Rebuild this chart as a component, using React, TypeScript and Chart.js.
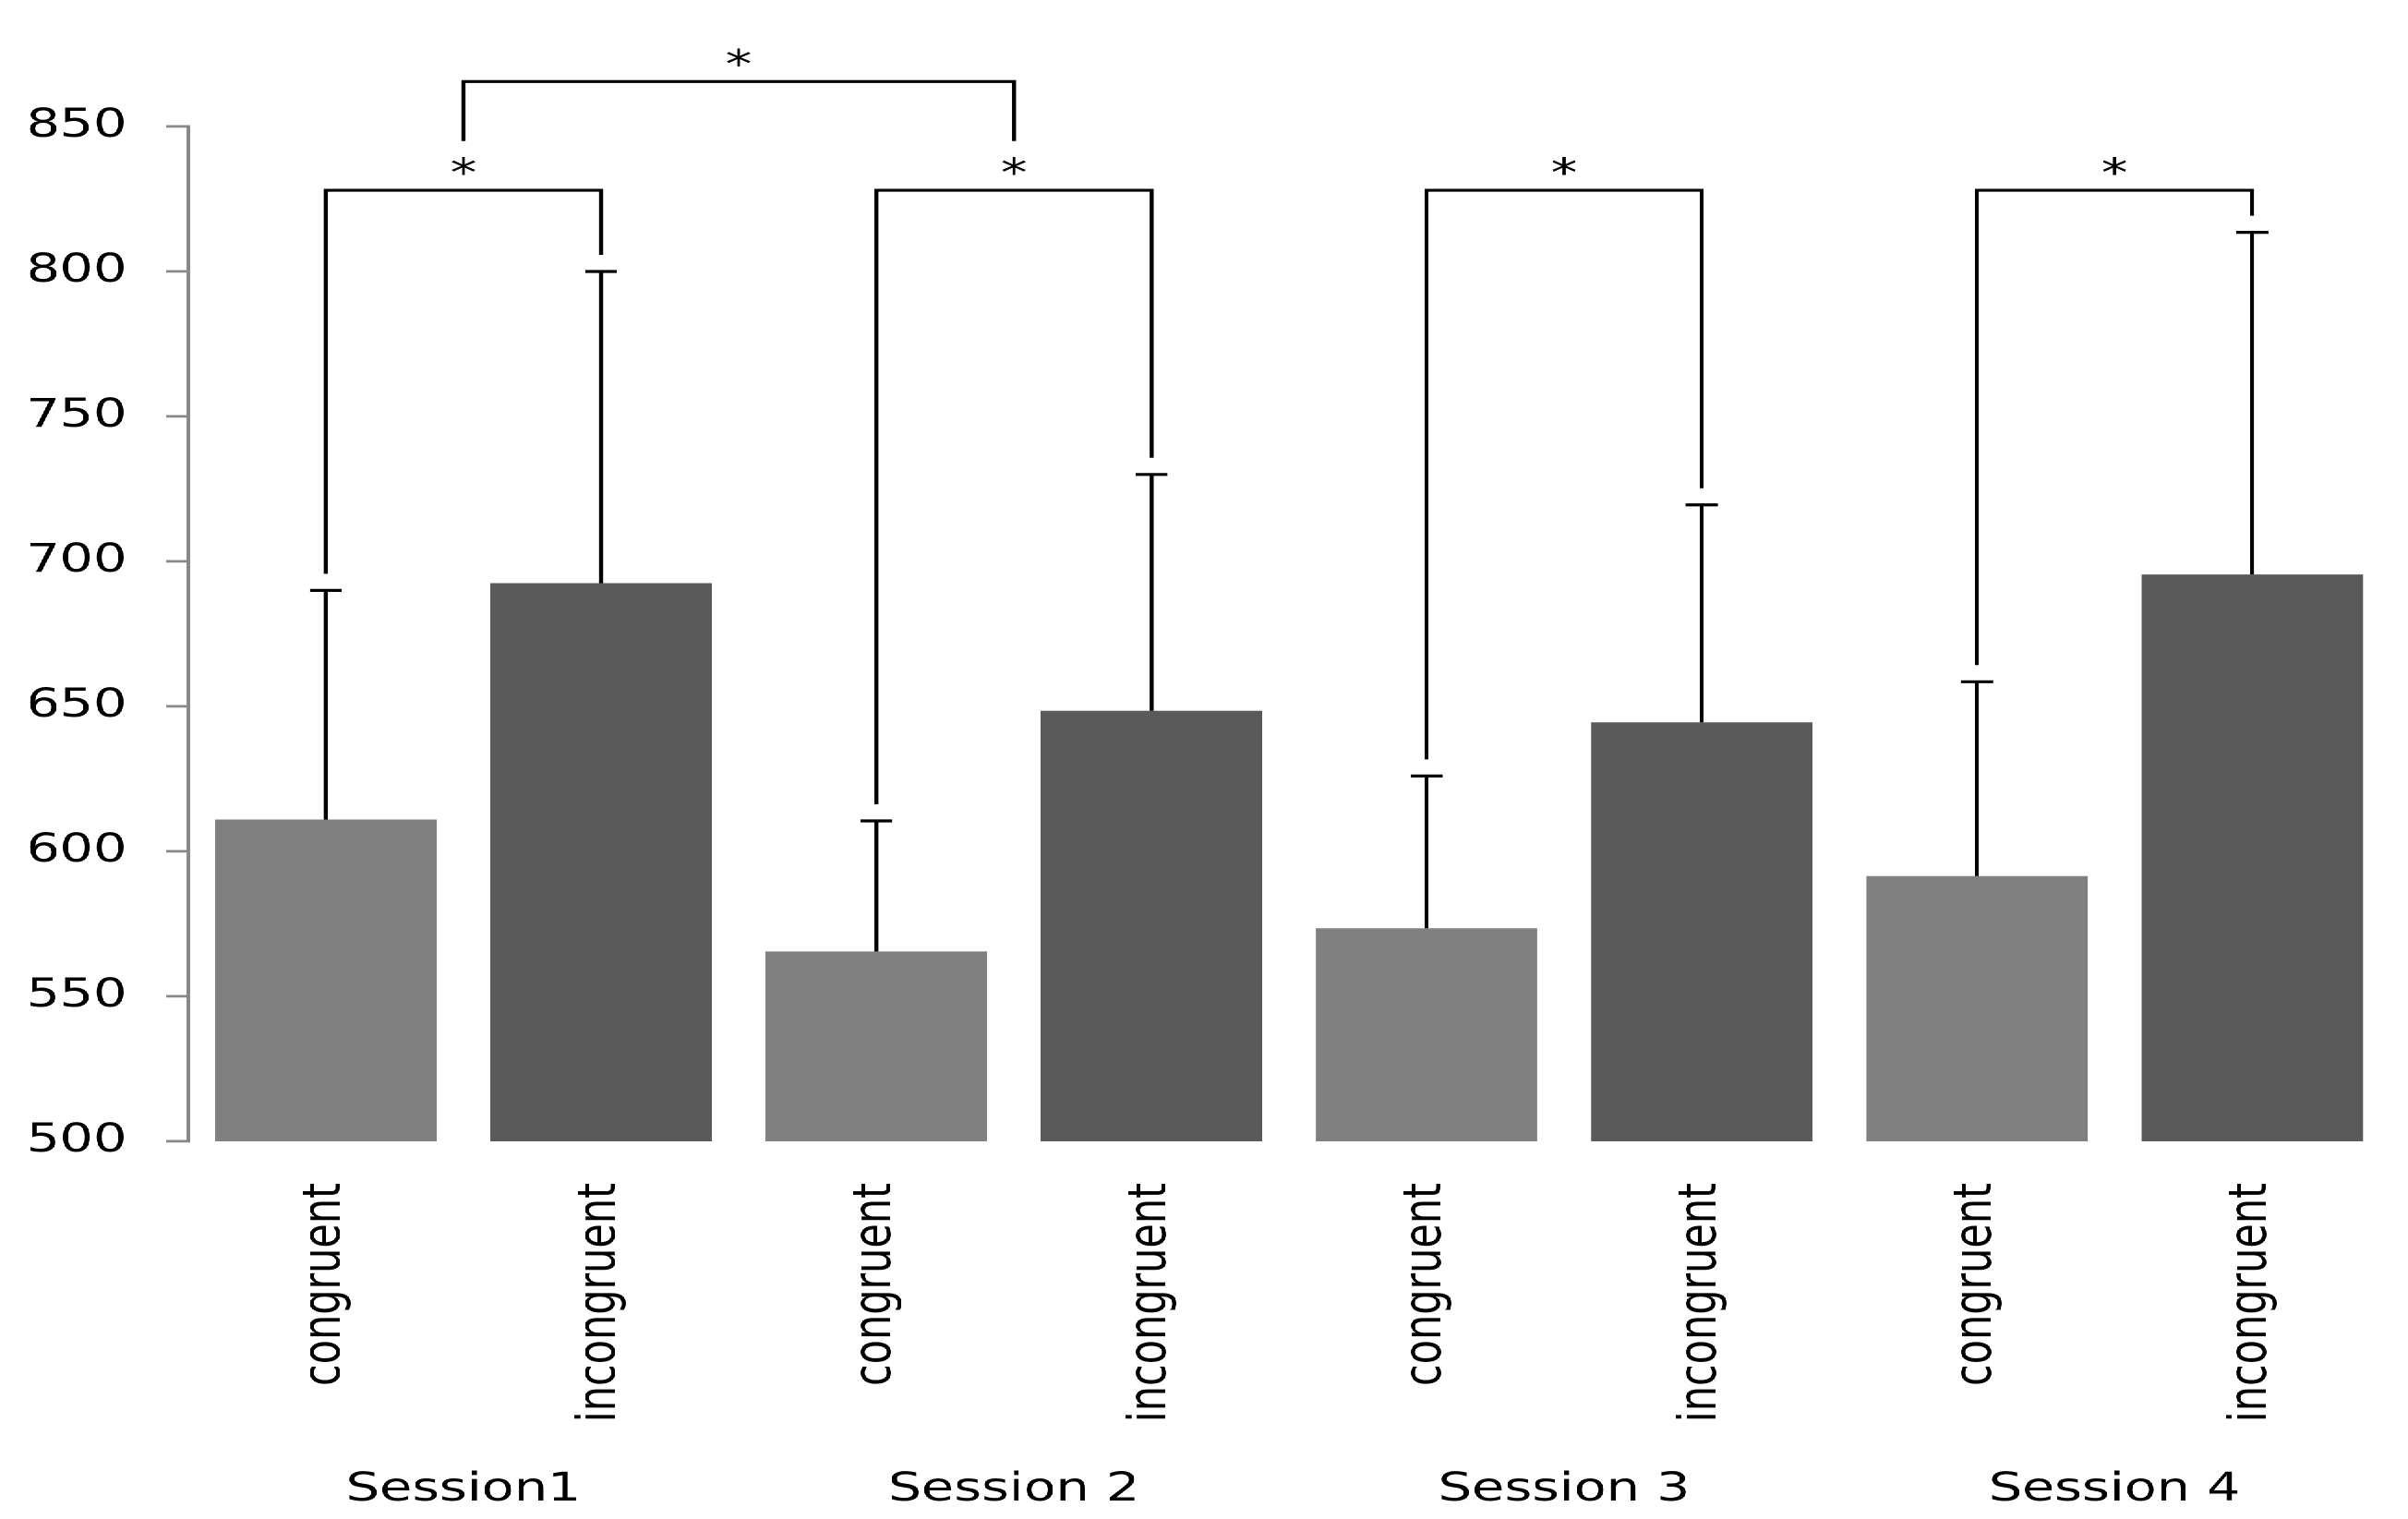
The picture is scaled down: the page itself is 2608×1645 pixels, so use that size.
import { useEffect, useRef } from "react";
import { Chart, registerables } from "chart.js";

Chart.register(...registerables);

const sessions = ["Session1", "Session 2", "Session 3", "Session 4"];
const conditions = ["congruent", "incongruent"];
const congruentMeans = [611, 565.5, 573.5, 591.5];
const incongruentMeans = [692.5, 648.5, 644.5, 695.5];
const congruentUpper = [690, 610.5, 626, 658.5];
const incongruentUpper = [800, 730, 719.5, 813.5];
const yTicks = [500, 550, 600, 650, 700, 750, 800, 850];

// significance brackets (in ms)
const withinLevel = 828;
const acrossLevel = 865.5;
const acrossLegEnd = 845;
const acrossPair = [0, 1]; // Session1 vs Session 2

const labels = sessions.flatMap(() => conditions);
const means = sessions.flatMap((_, i) => [congruentMeans[i], incongruentMeans[i]]);
const uppers = sessions.flatMap((_, i) => [congruentUpper[i], incongruentUpper[i]]);
const colors = sessions.flatMap(() => ["#808080", "#5a5a5a"]);

const STRETCH = 1.33;
const W = 1961;
const H = 1645;
const FONT = "'DejaVu Sans', Verdana, sans-serif";

const annotations = {
    id: "annotations",
    afterDatasetsDraw(chart: Chart) {
        const { ctx } = chart;
        const x = chart.scales.x;
        const y = chart.scales.y;
        const cap = 13;
        const legGap = 18;

        ctx.save();
        ctx.strokeStyle = "#000";
        ctx.fillStyle = "#000";
        ctx.lineWidth = 3.2;

        // error bars
        means.forEach((v, i) => {
            const px = x.getPixelForValue(i);
            const top = y.getPixelForValue(uppers[i]);
            ctx.beginPath();
            ctx.moveTo(px, y.getPixelForValue(v));
            ctx.lineTo(px, top);
            ctx.moveTo(px - cap, top);
            ctx.lineTo(px + cap, top);
            ctx.stroke();
        });

        ctx.font = `43px ${FONT}`;
        ctx.textAlign = "center";
        ctx.textBaseline = "alphabetic";

        // within-session brackets
        const levelPx = y.getPixelForValue(withinLevel);
        sessions.forEach((_, s) => {
            const a = 2 * s;
            const b = 2 * s + 1;
            const xa = x.getPixelForValue(a);
            const xb = x.getPixelForValue(b);
            ctx.beginPath();
            ctx.moveTo(xa, y.getPixelForValue(uppers[a]) - legGap);
            ctx.lineTo(xa, levelPx);
            ctx.lineTo(xb, levelPx);
            ctx.lineTo(xb, y.getPixelForValue(uppers[b]) - legGap);
            ctx.stroke();
            ctx.fillText("*", (xa + xb) / 2, levelPx - 4);
        });

        // across-session bracket
        const centre = (s: number) =>
            (x.getPixelForValue(2 * s) + x.getPixelForValue(2 * s + 1)) / 2;
        const x1 = centre(acrossPair[0]);
        const x2 = centre(acrossPair[1]);
        const topPx = y.getPixelForValue(acrossLevel);
        const endPx = y.getPixelForValue(acrossLegEnd);
        ctx.beginPath();
        ctx.moveTo(x1, endPx);
        ctx.lineTo(x1, topPx);
        ctx.lineTo(x2, topPx);
        ctx.lineTo(x2, endPx);
        ctx.stroke();
        ctx.fillText("*", (x1 + x2) / 2, topPx - 4);

        // session labels
        sessions.forEach((name, s) => {
            ctx.fillText(name, centre(s), 1625);
        });

        ctx.restore();
    },
};

export default function App() {
    const chartRef = useRef<HTMLCanvasElement | null>(null);
    const chartInstanceRef = useRef<Chart | null>(null);

    useEffect(() => {
        document.body.style.margin = "0";
        document.body.style.overflow = "hidden";
        const ctx = chartRef.current?.getContext("2d");
        if (!ctx) return;
        if (chartInstanceRef.current) chartInstanceRef.current.destroy();

        chartInstanceRef.current = new Chart(ctx, {
            type: "bar",
            data: {
                labels,
                datasets: [
                    {
                        data: means,
                        backgroundColor: colors,
                        borderWidth: 0,
                        categoryPercentage: 1,
                        barPercentage: 0.805,
                    },
                ],
            },
            options: {
                responsive: false,
                animation: false,
                devicePixelRatio: 2,
                layout: { padding: { top: 137, right: 15, left: 0, bottom: 0 } },
                plugins: {
                    legend: { display: false },
                    tooltip: { enabled: false },
                },
                scales: {
                    x: {
                        grid: { display: false },
                        border: { display: false },
                        ticks: {
                            autoSkip: false,
                            minRotation: 90,
                            maxRotation: 90,
                            padding: 37,
                            color: "#000",
                            font: { family: FONT, size: 43 },
                        },
                        afterFit: (scale: any) => {
                            scale.height = H - 1236;
                        },
                    },
                    y: {
                        min: yTicks[0],
                        max: yTicks[yTicks.length - 1],
                        afterBuildTicks: (scale: any) => {
                            scale.ticks = yTicks.map((value) => ({ value }));
                        },
                        grid: {
                            drawOnChartArea: false,
                            drawTicks: true,
                            tickLength: 18,
                            color: "#888888",
                            lineWidth: 2.7,
                        },
                        border: { display: true, color: "#888888", width: 3 },
                        ticks: {
                            padding: 32,
                            color: "#000",
                            font: { family: FONT, size: 43 },
                        },
                        afterFit: (scale: any) => {
                            scale.width = 153.4;
                        },
                    },
                },
            },
            plugins: [annotations],
        });

        return () => {
            if (chartInstanceRef.current) {
                chartInstanceRef.current.destroy();
                chartInstanceRef.current = null;
            }
        };
    }, []);

    return (
        <div
            style={{
                position: "absolute",
                left: 0,
                top: 0,
                width: W,
                height: H,
                background: "#fff",
                transform: `scaleX(${STRETCH})`,
                transformOrigin: "0 0",
            }}
        >
            <canvas ref={chartRef} width={W} height={H} />
        </div>
    );
}
